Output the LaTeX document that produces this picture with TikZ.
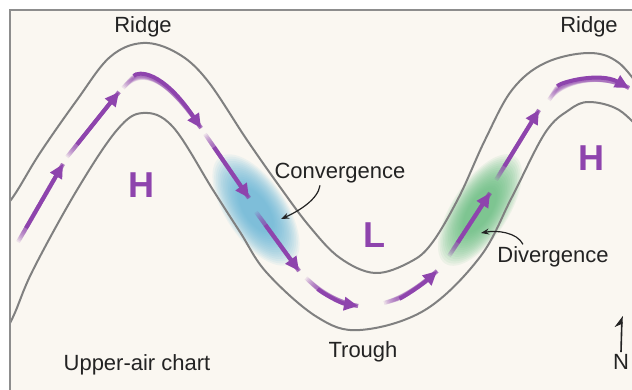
\documentclass[tikz,border=0pt]{standalone}
\usepackage{fontspec}
\setmainfont{Liberation Sans}
\usetikzlibrary{arrows.meta}

\definecolor{paper}{RGB}{250,247,241}
\definecolor{jet}{RGB}{142,68,173}
\definecolor{contour}{RGB}{128,128,128}
\definecolor{convblue}{RGB}{95,178,215}
\definecolor{divgreen}{RGB}{95,188,120}
\definecolor{ink}{RGB}{35,35,35}

\begin{document}
\begin{tikzpicture}[
  x=0.5pt, y=-0.5pt,
  >={Stealth[length=4pt]},
  lbl/.style={font=\fontsize{11}{13}\selectfont, text=ink, inner sep=1pt},
  press/.style={font=\fontsize{18}{20}\selectfont\bfseries, text=jet, inner sep=0pt},
  isoline/.style={draw=contour, line width=1pt},
  flow/.style={draw=jet, line width=2pt, -{Triangle[length=7pt, width=6.5pt]}},
  tail/.style={draw=jet, line width=2pt, opacity=0.13},
  pointer/.style={->, semithick, ink},
]
  \useasboundingbox (0,0) rectangle (632,390);
  \clip (0,0) rectangle (632,390);
  \fill[white] (0,0) rectangle (632,390);
  \fill[paper, draw=contour!90, line width=1pt] (10,10) rectangle (650,410);

  \begin{scope}
    \clip (11,11) rectangle (640,400);
    % soft patches under the jet
    \begin{scope}[shift={(256,210)}, rotate=-56]
      \foreach \k in {1.0,0.96,...,0.4} \fill[convblue, opacity=0.085] (0,0) ellipse [x radius=\k*64, y radius=\k*30];
    \end{scope}
    \begin{scope}[shift={(480,210)}, rotate=57]
      \foreach \k in {1.0,0.96,...,0.4} \fill[divgreen, opacity=0.085] (0,0) ellipse [x radius=\k*64, y radius=\k*28];
    \end{scope}

    % height contours
    \draw[isoline] plot[smooth, tension=0.6] coordinates {(-10,225) (13,197) (40,153) (77,100) (110,57) (143,43) (177,53) (207,80) (247,140) (280,187) (310,227) (340,258) (375,273) (410,262) (432,243) (459,197) (485,140) (512,90) (545,63) (589,53) (619,63) (645,95)};
    \draw[isoline] plot[smooth, tension=0.6] coordinates {(-5,350) (13,317) (33,270) (77,190) (117,130) (143,113) (173,127) (213,190) (240,232) (267,273) (317,317) (360,330) (425,310) (480,257) (512,197) (545,133) (569,110) (589,102) (619,110) (645,135)};
  \end{scope}

  % jet stream, each piece fading in at its tail
  \foreach \p in {
    {(18,242) -- (63,164)},
    {(67,157) -- (119,92)},
    {(123,88) .. controls (138,71) and (162,70) .. (201,128)},
    {(205,134) -- (249,198)},
    {(256,212) -- (299,271)},
    {(306,278) .. controls (322,293) and (340,303) .. (358,306)},
    {(384,303) .. controls (402,298) and (422,285) .. (437,271)},
    {(449,256) -- (490,193)},
    {(496,180) -- (539,110)},
    {(549,100) .. controls (560,82) and (600,72) .. (629,88)}
  }{
    \foreach \s in {0,0.8,...,7.2} \draw[tail, shorten <=\s pt] \p;
    \draw[flow, shorten <=8pt] \p;
  }

  \node[lbl] (ridgeW) at (143,27) {Ridge};
  \node[lbl] (ridgeE) at (589,27) {Ridge};
  \node[lbl] (trough) at (363,352) {Trough};
  \node[lbl] (chart) at (137,365) {Upper-air chart};
  \node[lbl] (conv) at (340,173) {Convergence};
  \node[lbl] (div) at (553,257) {Divergence};
  \node[press] (hiW) at (141,185) {H};
  \node[press] (hiE) at (591,158) {H};
  \node[press] (lo) at (374,235) {L};
  \node[lbl] (north) at (621,362) {N};

  \coordinate (convtip) at (281,219);
  \coordinate (divtip) at (481,233);
  \coordinate (northtip) at (622,316);
  \draw[pointer] ([xshift=-10pt]conv.south) .. controls +(-2,14) and +(18,-8) .. (convtip);
  \draw[pointer] ([xshift=-15pt]div.north) .. controls +(-6,-12) and +(16,-3) .. (divtip);
  \draw[ink, thick, -{Stealth[harpoon, length=5pt, width=7pt]}] (north.north) -- (northtip);
\end{tikzpicture}
\end{document}
